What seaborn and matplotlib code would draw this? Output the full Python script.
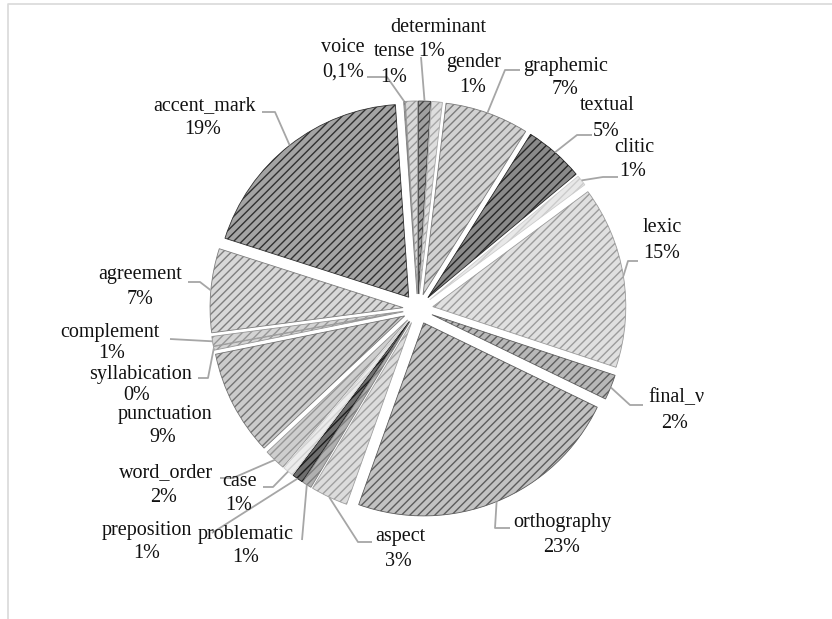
import numpy as np
import matplotlib
matplotlib.use("Agg")
import matplotlib.pyplot as plt
import seaborn as sns

sns.set_theme(style="white")
plt.rcParams["font.family"] = ["Liberation Serif", "DejaVu Serif"]
plt.rcParams["hatch.linewidth"] = 1.0

# ── Data (clockwise from 12 o'clock) ─────────────────────────────────────────
categories = ["determinant", "gender", "graphemic", "textual", "clitic", "lexic",
              "final_ν", "orthography", "aspect", "problematic", "preposition",
              "case", "word_order", "punctuation", "syllabication", "complement",
              "agreement", "accent_mark", "voice", "tense"]
shares = [1.0, 0.9, 7.0, 5.0, 0.9, 15.2, 2.1, 23.2, 3.1, 0.8, 0.9,
          0.9, 1.8, 8.8, 0.3, 0.8, 7.0, 18.9, 0.1, 1.0]
pct_labels = ["1%", "1%", "7%", "5%", "1%", "15%", "2%", "23%", "3%", "1%", "1%",
              "1%", "2%", "9%", "0%", "1%", "7%", "19%", "0,1%", "1%"]

# ── Style: (face, hatch) greys per slice ─────────────────────────────────────
face_cols = ["#a0a0a0", "#dedede", "#d2d2d2", "#8a8a8a", "#e8e8e8", "#e0e0e0",
             "#b8b8b8", "#c2c2c2", "#dcdcdc", "#b0b0b0", "#6e6e6e",
             "#ececec", "#cecece", "#cbcbcb", "#d4d4d4", "#d4d4d4",
             "#d8d8d8", "#a4a4a4", "#c8c8c8", "#d8d8d8"]
hatch_cols = ["#404040", "#a8a8a8", "#7c7c7c", "#262626", "#cccccc", "#9c9c9c",
              "#5e5e5e", "#5c5c5c", "#a0a0a0", "#7e7e7e", "#1c1c1c",
              "#d0d0d0", "#969696", "#747474", "#969696", "#969696",
              "#7e7e7e", "#303030", "#808080", "#969696"]

# ── Layout in image pixels ───────────────────────────────────────────────────
W, H = 832, 619
cx, cy, R, expl = 418, 309, 193, 15

# (name x, name y, pct x, pct y) and leader elbow points (image px)
label_pos = {
    "determinant": (438, 27, 432, 51), "gender": (474, 63, 473, 88),
    "graphemic": (566, 67, 565, 90), "textual": (607, 106, 606, 132),
    "clitic": (634, 147, 633, 172), "lexic": (662, 228, 662, 253),
    "final_ν": (676, 398, 675, 424), "orthography": (562, 523, 562, 548),
    "aspect": (400, 537, 398, 562), "problematic": (246, 535, 246, 558),
    "preposition": (147, 530, 147, 554), "case": (240, 481, 239, 506),
    "word_order": (166, 473, 164, 498), "punctuation": (165, 415, 163, 438),
    "syllabication": (140, 374, 137, 395), "complement": (110, 332, 112, 354),
    "agreement": (140, 275, 140, 300), "accent_mark": (204, 106, 203, 130),
    "voice": (343, 47, 343, 72), "tense": (395, 52, 394, 77),
}
leaders = {
    "voice": [(367, 77), (387, 77)], "determinant": [(421, 57)],
    "graphemic": [(520, 70), (505, 70)], "textual": [(592, 135), (577, 135)],
    "clitic": [(618, 177), (603, 177)], "lexic": [(638, 261), (628, 261)],
    "final_ν": [(643, 405), (630, 405)],
    "orthography": [(510, 528), (495, 528)],
    "aspect": [(372, 542), (358, 542)], "problematic": [(302, 540)],
    "preposition": [(212, 533)], "case": [(263, 487), (273, 487)],
    "word_order": [(220, 478), (233, 478)],
    "syllabication": [(198, 378), (208, 378)], "complement": [(170, 339)],
    "agreement": [(188, 282), (200, 282)],
    "accent_mark": [(262, 112), (275, 112)],
}

fig = plt.figure(figsize=(W / 100, H / 100), dpi=100)
ax = fig.add_axes([0, 0, 1, 1])

wedges, _ = ax.pie(shares, startangle=90, counterclock=False,
                   center=(cx, H - cy), radius=R,
                   explode=[expl] * len(shares), colors=face_cols,
                   wedgeprops=dict(linewidth=0.6))
for w, hc in zip(wedges, hatch_cols):
    w.set_edgecolor(hc)
    w.set_hatch("////")

ax.set_xlim(0, W)
ax.set_ylim(0, H)
ax.set_aspect("equal")
ax.axis("off")

lead_col = "#a6a6a6"
txt = dict(ha="center", va="center", fontsize=14.5, color="#111111")
for name, pct, w in zip(categories, pct_labels, wedges):
    nx, ny, px, py = label_pos[name]
    ax.text(nx, H - ny, name, **txt)
    ax.text(px, H - py, pct, **txt)
    if name in leaders:
        mid = np.deg2rad((w.theta1 + w.theta2) / 2)
        ex = w.center[0] + w.r * np.cos(mid)
        ey = w.center[1] + w.r * np.sin(mid)
        pts = leaders[name]
        xs = [p[0] for p in pts] + [ex]
        ys = [H - p[1] for p in pts] + [ey]
        ax.plot(xs, ys, color=lead_col, lw=1.3, solid_capstyle="butt")

# chart-area frame (cropped at right and bottom)
ax.plot([8, 8, W], [0, H - 4, H - 4], color="#d9d9d9", lw=1.2, clip_on=False)

fig.savefig("out.png", dpi=100)
